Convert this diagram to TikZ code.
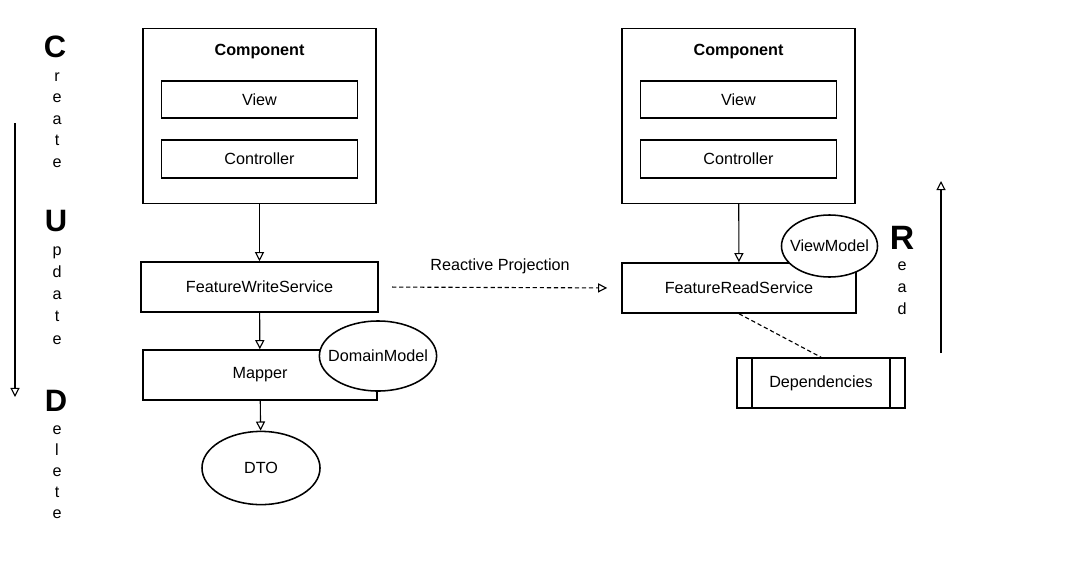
\documentclass[tikz,border=0pt]{standalone}
\usepackage{fontspec}
\setmainfont{Liberation Sans}
\usetikzlibrary{arrows.meta,shapes.geometric}

\begin{document}
\begin{tikzpicture}[x=0.025cm, y=-0.025cm, >={Triangle[open, length=6.5pt, width=6.5pt]},
    every node/.style={font=\fontsize{11.5}{13}\selectfont},
    box/.style={rectangle, draw=black, line width=1.1pt, inner sep=0pt},
    blob/.style={ellipse, draw=black, fill=white, line width=1.1pt, inner xsep=-6pt, inner ysep=0pt},
    flow/.style={->, line width=0.8pt},
    link/.style={line width=0.8pt, dash pattern=on 3pt off 2pt},
    crud/.style={anchor=base, font=\fontsize{22}{22}\selectfont\bfseries},
    letter/.style={anchor=base}]
        \useasboundingbox (0,0) rectangle (1066,567);

        % Component boxes
        \foreach \side/\cx in {W/259.5, R/738.5} {
        \node[box, minimum width=5.83cm, minimum height=4.37cm] (comp\side) at (\cx,116) {};
        \node[font=\fontsize{11.5}{13}\selectfont\bfseries] (title\side) at (\cx,52) {Component};
        \node[box, minimum width=4.9cm, minimum height=0.93cm] (view\side) at (\cx,99.5) {View};
        \node[box, minimum width=4.9cm, minimum height=0.95cm] (ctrl\side) at (\cx,159) {Controller};
        }

        % Write side
        \node[box, minimum width=5.93cm, minimum height=1.25cm] (fws) at (259.5,287) {FeatureWriteService};
        \node[box, minimum width=5.85cm, minimum height=1.25cm] (mapper) at (260,375) {Mapper};
        \node[blob, minimum width=2.9cm, minimum height=1.75cm] (domain) at (378,356) {DomainModel};
        \node[blob, minimum width=2.95cm, minimum height=1.83cm] (dto) at (261,468) {DTO};

        % Read side
        \node[box, minimum width=5.85cm, minimum height=1.25cm] (frs) at (739,288) {FeatureReadService};
        \node[blob, minimum width=2.4cm, minimum height=1.55cm] (viewmodel) at (829.5,246) {ViewModel};
        \node[box, minimum width=4.2cm, minimum height=1.25cm] (deps) at (821,383) {Dependencies};
        \draw[line width=1.1pt] ([xshift=0.4cm]deps.north west) -- ([xshift=0.4cm]deps.south west);
        \draw[line width=1.1pt] ([xshift=-0.4cm]deps.north east) -- ([xshift=-0.4cm]deps.south east);

        % Connections
        \draw[flow] (compW) -- (fws);
        \draw[flow] (fws) -- (mapper);
        \draw[flow] (mapper) -- (dto);
        \draw[flow] (compR) -- (frs);
        \draw[flow, link, shorten <=0.33cm, shorten >=0.35cm] (fws.east) -- node[above=6pt] (proj) {Reactive Projection} (frs.west);
        \draw[link] (frs.south) -- (deps.north);

        % CRUD letters
        \node[crud] (C) at (55,57) {C};
        \foreach \ch [count=\k] in {r,e,a,t,e}
        \node[letter] (create-\k) at (57,{59.5+21.5*\k}) {\ch};
        \node[crud] (U) at (56,231) {U};
        \foreach \ch [count=\k] in {p,d,a,t,e}
        \node[letter] (update-\k) at (57,{233+22.2*\k}) {\ch};
        \node[crud] (D) at (56,411) {D};
        \foreach \ch [count=\k] in {e,l,e,t,e}
        \node[letter] (delete-\k) at (57,{413+21*\k}) {\ch};
        \node[crud, font=\fontsize{24}{24}\selectfont\bfseries] (Rd) at (902,249.5) {R};
        \foreach \ch [count=\k] in {e,a,d}
        \node[letter] (read-\k) at (902,{248+22*\k}) {\ch};

        % Direction arrows
        \coordinate (cudTop) at (15,123);
        \coordinate (cudEnd) at (15,397);
        \draw[flow] (cudTop) -- (cudEnd);
        \coordinate (readBot) at (941,353);
        \coordinate (readTop) at (941,181);
        \draw[flow] (readBot) -- (readTop);
    \end{tikzpicture}
\end{document}
